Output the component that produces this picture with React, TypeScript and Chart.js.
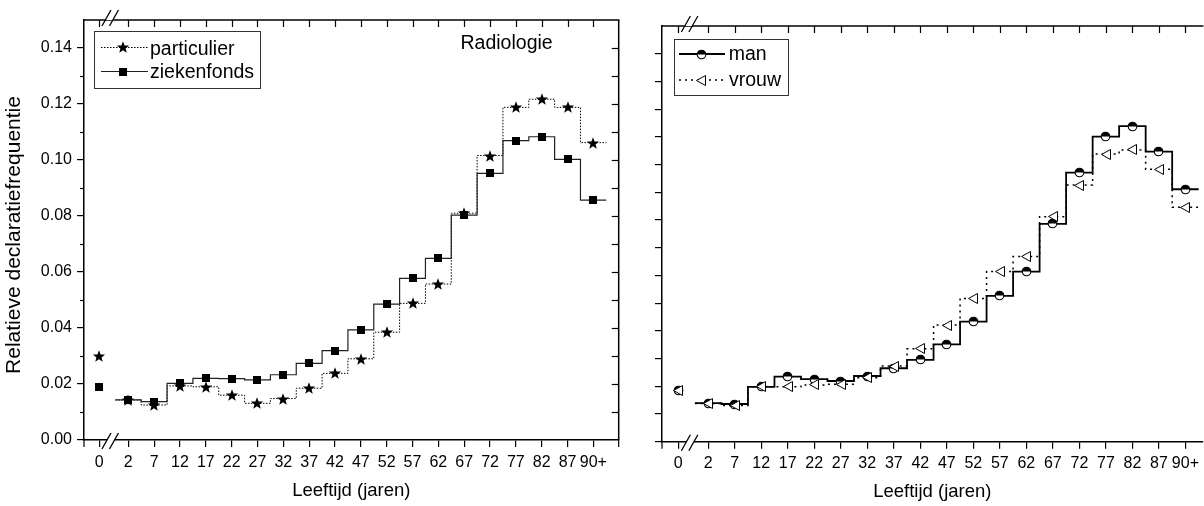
import React, { useEffect, useRef } from 'react';
import { Chart, registerables } from 'chart.js';
Chart.register(...registerables);

// ---------- data ----------
const categories = ['0', '2', '7', '12', '17', '22', '27', '32', '37', '42', '47', '52', '57', '62', '67', '72', '77', '82', '87', '90+'];
const particulier = [0.030, 0.0143, 0.0125, 0.0193, 0.0190, 0.0160, 0.0131, 0.0148, 0.0185, 0.0238, 0.0290, 0.0385, 0.0488, 0.0557, 0.0810, 0.1016, 0.1188, 0.1217, 0.1188, 0.1062];
const ziekenfonds = [0.019, 0.0143, 0.0137, 0.0202, 0.0220, 0.0219, 0.0215, 0.0233, 0.0274, 0.0319, 0.0393, 0.0485, 0.0577, 0.0649, 0.0803, 0.0952, 0.1069, 0.1083, 0.1002, 0.0857];
const man = [0.0185, 0.0139, 0.0136, 0.0198, 0.0235, 0.0226, 0.0219, 0.0237, 0.0265, 0.0295, 0.0351, 0.0433, 0.0526, 0.0614, 0.0786, 0.0971, 0.1101, 0.1139, 0.1047, 0.0911];
const vrouw = [0.0185, 0.0138, 0.0131, 0.0198, 0.0198, 0.0205, 0.0207, 0.0231, 0.0273, 0.0335, 0.0421, 0.0517, 0.0614, 0.0668, 0.0812, 0.0926, 0.1038, 0.1053, 0.0983, 0.0846];
const yTicks = [0, 0.01, 0.02, 0.03, 0.04, 0.05, 0.06, 0.07, 0.08, 0.09, 0.10, 0.11, 0.12, 0.13, 0.14];
const yTickLabels = ['0.00', '', '0.02', '', '0.04', '', '0.06', '', '0.08', '', '0.10', '', '0.12', '', '0.14'];

const FONT = "'Liberation Sans', Arial, Helvetica, sans-serif";
const BREAK = 1.13;
const xPos = (i: number) => (i === 0 ? -BREAK : i - 1);

function stepData(values: number[]) {
  const n = values.length;
  const pts: { x: number; y: number }[] = [{ x: xPos(1) - 0.5, y: values[1] }];
  for (let i = 1; i < n; i++) pts.push({ x: xPos(i), y: values[i] });
  pts.push({ x: xPos(n - 1) + 0.5, y: values[n - 1] });
  return pts;
}
function markerData(values: number[]) {
  return values.map((v, i) => ({ x: xPos(i), y: v }));
}

function makeCanvas(w: number, h: number, draw: (g: CanvasRenderingContext2D) => void) {
  const c = document.createElement('canvas');
  c.width = w;
  c.height = h;
  draw(c.getContext('2d')!);
  return c;
}
function makeMarkers() {
  const star = makeCanvas(14, 14, (g) => {
    g.fillStyle = '#000';
    g.beginPath();
    for (let k = 0; k < 10; k++) {
      const r = k % 2 === 0 ? 6.4 : 2.7;
      const a = -Math.PI / 2 + (k * Math.PI) / 5;
      const px = 7 + r * Math.cos(a);
      const py = 7.6 + r * Math.sin(a);
      if (k === 0) g.moveTo(px, py);
      else g.lineTo(px, py);
    }
    g.closePath();
    g.fill();
  });
  const square = makeCanvas(8, 8, (g) => {
    g.fillStyle = '#000';
    g.fillRect(0, 0, 8, 8);
  });
  const half = makeCanvas(11, 11, (g) => {
    g.fillStyle = '#fff';
    g.beginPath();
    g.arc(5.5, 5.5, 4.3, 0, Math.PI * 2);
    g.fill();
    g.fillStyle = '#000';
    g.beginPath();
    g.arc(5.5, 5.5, 4.3, Math.PI, Math.PI * 2);
    g.closePath();
    g.fill();
    g.strokeStyle = '#000';
    g.lineWidth = 1.1;
    g.beginPath();
    g.arc(5.5, 5.5, 4.3, 0, Math.PI * 2);
    g.stroke();
  });
  const tri = makeCanvas(12, 13, (g) => {
    g.fillStyle = '#fff';
    g.strokeStyle = '#000';
    g.lineWidth = 1;
    g.beginPath();
    g.moveTo(1.5, 6.5);
    g.lineTo(10.5, 1.5);
    g.lineTo(10.5, 11.5);
    g.closePath();
    g.fill();
    g.stroke();
  });
  return { star, square, half, tri };
}

function line(ctx: CanvasRenderingContext2D, x1: number, y1: number, x2: number, y2: number) {
  ctx.beginPath();
  ctx.moveTo(x1, y1);
  ctx.lineTo(x2, y2);
  ctx.stroke();
}

function drawBreak(ctx: CanvasRenderingContext2D, cx: number, cy: number) {
  const d = 3.75, hw = 4.5, hh = 8;
  const s = hw / hh;
  ctx.save();
  ctx.fillStyle = '#fff';
  ctx.beginPath();
  ctx.moveTo(cx - d + 2 * s, cy - 2);
  ctx.lineTo(cx + d + 2 * s, cy - 2);
  ctx.lineTo(cx + d - 2 * s, cy + 2);
  ctx.lineTo(cx - d - 2 * s, cy + 2);
  ctx.closePath();
  ctx.fill();
  ctx.strokeStyle = '#000';
  ctx.lineWidth = 1.3;
  line(ctx, cx - d - hw, cy + hh, cx - d + hw, cy - hh);
  line(ctx, cx + d - hw, cy + hh, cx + d + hw, cy - hh);
  ctx.restore();
}

function drawImg(ctx: CanvasRenderingContext2D, img: HTMLCanvasElement, x: number, y: number) {
  ctx.drawImage(img, Math.round(x - img.width / 2), Math.round(y - img.height / 2));
}

// draws marker images at the positions the library computed for each point element
const markerPlugin = {
  id: 'markers',
  afterDatasetsDraw(chart: any) {
    const { ctx } = chart;
    ctx.save();
    const list = chart.data.datasets
      .map((ds: any, i: number) => ({ ds, i }))
      .filter((o: any) => o.ds.markerImg)
      .sort((a: any, b: any) => a.ds.markerLayer - b.ds.markerLayer);
    list.forEach(({ ds, i }: any) => {
      const meta = chart.getDatasetMeta(i);
      meta.data.forEach((el: any) => drawImg(ctx, ds.markerImg, el.x, el.y));
    });
    ctx.restore();
  },
};

function framePlugin(opts: { rightAxis: boolean; minorLeft: boolean; yTitle: boolean; legend: (ctx: CanvasRenderingContext2D) => void }) {
  return {
    id: 'frame',
    afterDraw(chart: any) {
      const { ctx, chartArea } = chart;
      const { left, right, top, bottom } = chartArea;
      const x = chart.scales.x;
      const y = chart.scales.y;
      ctx.save();
      ctx.strokeStyle = '#000';
      ctx.lineWidth = 1.5;
      line(ctx, left - 0.75, top, right + 0.75, top);
      if (opts.rightAxis) line(ctx, right, top, right, bottom);
      ctx.lineWidth = 1.2;
      line(ctx, left, bottom, left, bottom + 7);
      if (opts.rightAxis) line(ctx, right, bottom, right, bottom + 7);
      categories.forEach((_, i) => {
        const px = Math.round(x.getPixelForValue(xPos(i))) + 0.5;
        line(ctx, px, top, px, top + 7);
      });
      if (opts.rightAxis) {
        yTicks.forEach((v) => {
          if (v === 0) return;
          const py = Math.round(y.getPixelForValue(v)) + 0.5;
          line(ctx, right - 7, py, right, py);
        });
      }
      if (opts.minorLeft) {
        yTicks.forEach((v, i) => {
          if (yTickLabels[i] !== '') return;
          const py = Math.round(y.getPixelForValue(v)) + 0.5;
          line(ctx, left - 4, py, left, py);
        });
      }
      const bx = x.getPixelForValue(-0.7);
      drawBreak(ctx, bx, top - 2);
      drawBreak(ctx, bx, bottom + 1);
      if (opts.yTitle) {
        ctx.save();
        ctx.translate(14, 235);
        ctx.rotate(-Math.PI / 2);
        ctx.fillStyle = '#000';
        ctx.font = `21px ${FONT}`;
        ctx.textAlign = 'center';
        ctx.textBaseline = 'middle';
        ctx.fillText('Relatieve declaratiefrequentie', 0, 0);
        ctx.restore();
      }
      opts.legend(ctx);
      ctx.restore();
    },
  };
}

function baseOptions(cfg: {
  padTop: number; padRight: number; yWidth: number; xHeight: number;
  xmin: number; xmax: number; yLabels: boolean; xTickPad: number; xTitlePad: number; leftMinor: boolean;
}) {
  return {
    responsive: false,
    animation: false as const,
    devicePixelRatio: 1,
    events: [],
    layout: { padding: { top: cfg.padTop, right: cfg.padRight, left: 0, bottom: 0 } },
    plugins: { legend: { display: false }, tooltip: { enabled: false } },
    scales: {
      x: {
        type: 'linear' as const,
        min: cfg.xmin,
        max: cfg.xmax,
        bounds: 'data' as const,
        offset: false,
        afterBuildTicks: (scale: any) => {
          scale.ticks = categories.map((_, i) => ({ value: xPos(i) }));
        },
        afterFit: (scale: any) => {
          scale.height = cfg.xHeight;
        },
        ticks: {
          autoSkip: false,
          maxRotation: 0,
          minRotation: 0,
          padding: cfg.xTickPad,
          color: '#000',
          font: { family: FONT, size: 16 },
          callback: (_v: any, index: number) => categories[index],
        },
        grid: { display: true, drawOnChartArea: false, drawTicks: true, tickLength: 7, color: '#000', lineWidth: 1.2 },
        border: { display: true, color: '#000', width: 1.5 },
        title: {
          display: true,
          text: 'Leeftijd (jaren)',
          color: '#000',
          font: { family: FONT, size: 18.5 },
          padding: { top: 0, bottom: cfg.xTitlePad },
        },
      },
      y: {
        type: 'linear' as const,
        min: 0,
        max: 0.15,
        bounds: 'data' as const,
        afterBuildTicks: (scale: any) => {
          scale.ticks = yTicks.map((v) => ({ value: v }));
        },
        afterFit: (scale: any) => {
          scale.width = cfg.yWidth;
        },
        ticks: {
          autoSkip: false,
          padding: 5,
          color: '#000',
          font: { family: FONT, size: 16 },
          callback: (_v: any, index: number) => (cfg.yLabels ? yTickLabels[index] : ''),
        },
        grid: {
          display: true,
          drawOnChartArea: false,
          drawTicks: true,
          tickLength: 7,
          lineWidth: 1.2,
          color: '#000',
          tickColor: (c: any) => (!cfg.leftMinor || yTickLabels[c.index] !== '' ? '#000' : 'rgba(0,0,0,0)'),
        },
        border: { display: true, color: '#000', width: 1.5 },
        title: { display: false },
      },
    },
  };
}

function makeLeft(canvas: HTMLCanvasElement, m: ReturnType<typeof makeMarkers>) {
  const legend = (ctx: CanvasRenderingContext2D) => {
    ctx.save();
    ctx.fillStyle = '#fff';
    ctx.fillRect(94.5, 31.5, 166, 57);
    ctx.strokeStyle = '#333';
    ctx.lineWidth = 1;
    ctx.strokeRect(94.5, 31.5, 166, 57);
    ctx.strokeStyle = '#000';
    ctx.setLineDash([1.5, 1.5]);
    line(ctx, 101, 47.5, 148, 47.5);
    ctx.setLineDash([]);
    ctx.strokeStyle = '#222';
    ctx.lineWidth = 1.2;
    line(ctx, 101, 71.5, 148, 71.5);
    drawImg(ctx, m.star, 123, 46.5);
    drawImg(ctx, m.square, 123, 71.5);
    ctx.fillStyle = '#000';
    ctx.font = `19.5px ${FONT}`;
    ctx.textBaseline = 'alphabetic';
    ctx.textAlign = 'left';
    ctx.fillText('particulier', 150, 55);
    ctx.fillText('ziekenfonds', 150, 77.5);
    ctx.fillText('Radiologie', 460.5, 48.5);
    ctx.restore();
  };
  return new Chart(canvas, {
    type: 'line',
    data: {
      datasets: [
        { data: markerData(ziekenfonds), showLine: false, pointRadius: 0, markerImg: m.square, markerLayer: 1, order: 0 } as any,
        { data: markerData(particulier), showLine: false, pointRadius: 0, markerImg: m.star, markerLayer: 0, order: 1 } as any,
        { data: stepData(ziekenfonds), stepped: 'middle', borderColor: '#222', borderWidth: 1.2, pointRadius: 0, fill: false, order: 2 },
        { data: stepData(particulier), stepped: 'middle', borderColor: '#000', borderWidth: 1, borderDash: [1.5, 1.5], pointRadius: 0, fill: false, order: 3 },
      ],
    },
    options: baseOptions({
      padTop: 20, padRight: 21.3, yWidth: 84, xHeight: 66, xmin: -1.715, xmax: 18.98,
      yLabels: true, xTickPad: 6, xTitlePad: 4.4, leftMinor: true,
    }) as any,
    plugins: [markerPlugin, framePlugin({ rightAxis: true, minorLeft: true, yTitle: true, legend })],
  });
}

function makeRight(canvas: HTMLCanvasElement, m: ReturnType<typeof makeMarkers>) {
  const legend = (ctx: CanvasRenderingContext2D) => {
    ctx.save();
    ctx.fillStyle = '#fff';
    ctx.fillRect(34.5, 39.5, 114, 56);
    ctx.strokeStyle = '#333';
    ctx.lineWidth = 1;
    ctx.strokeRect(34.5, 39.5, 114, 56);
    ctx.strokeStyle = '#000';
    ctx.lineWidth = 1.8;
    line(ctx, 39, 54, 85, 54);
    ctx.lineWidth = 1.5;
    ctx.setLineDash([2, 4]);
    line(ctx, 39, 80, 85, 80);
    ctx.setLineDash([]);
    drawImg(ctx, m.half, 61.7, 54);
    drawImg(ctx, m.tri, 60.5, 80);
    ctx.fillStyle = '#000';
    ctx.font = `19.5px ${FONT}`;
    ctx.textBaseline = 'alphabetic';
    ctx.textAlign = 'left';
    ctx.fillText('man', 88.7, 60);
    ctx.fillText('vrouw', 89, 86);
    ctx.restore();
  };
  return new Chart(canvas, {
    type: 'line',
    data: {
      datasets: [
        { data: markerData(vrouw), showLine: false, pointRadius: 0, markerImg: m.tri, markerLayer: 1, order: 0 } as any,
        { data: markerData(man), showLine: false, pointRadius: 0, markerImg: m.half, markerLayer: 0, order: 1 } as any,
        { data: stepData(man), stepped: 'middle', borderColor: '#000', borderWidth: 1.8, pointRadius: 0, fill: false, order: 2 },
        { data: stepData(vrouw), stepped: 'middle', borderColor: '#000', borderWidth: 1.5, borderDash: [2, 4], pointRadius: 0, fill: false, order: 3 },
      ],
    },
    options: baseOptions({
      padTop: 26, padRight: 0, yWidth: 22, xHeight: 64.3, xmin: -1.742, xmax: 18.65,
      yLabels: false, xTickPad: 5, xTitlePad: 3.2, leftMinor: false,
    }) as any,
    plugins: [markerPlugin, framePlugin({ rightAxis: false, minorLeft: false, yTitle: false, legend })],
  });
}

export default function App() {
  const leftRef = useRef<HTMLCanvasElement>(null);
  const rightRef = useRef<HTMLCanvasElement>(null);
  useEffect(() => {
    const m = makeMarkers();
    const charts = [makeLeft(leftRef.current!, m), makeRight(rightRef.current!, m)];
    return () => charts.forEach((c) => c.destroy());
  }, []);
  return (
    <div style={{ position: 'fixed', left: 0, top: 0, width: 1204, height: 506, background: '#fff', overflow: 'hidden' }}>
      <canvas ref={leftRef} width={640} height={506} style={{ position: 'absolute', left: 0, top: 0, width: 640, height: 506 }} />
      <canvas ref={rightRef} width={564} height={506} style={{ position: 'absolute', left: 640, top: 0, width: 564, height: 506 }} />
    </div>
  );
}
